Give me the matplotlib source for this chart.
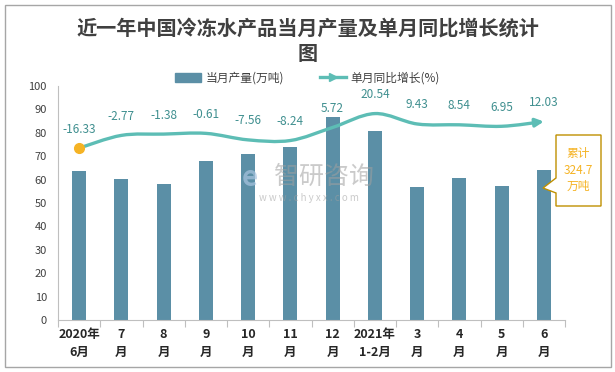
import matplotlib.pyplot as plt
import numpy as np
from matplotlib.path import Path
from matplotlib.patches import FancyArrowPatch, Rectangle, Polygon
from matplotlib.lines import Line2D

plt.rcParams['font.family'] = ['Noto Sans CJK SC', 'DejaVu Sans']

# data
months = ["2020年\n6月", "7\n月", "8\n月", "9\n月", "10\n月", "11\n月", "12\n月",
          "2021年\n1-2月", "3\n月", "4\n月", "5\n月", "6\n月"]
output = [63.7, 60.3, 58.1, 67.9, 70.9, 73.9, 86.8, 80.8, 57.0, 60.7, 57.3, 64.1]
growth = [-16.33, -2.77, -1.38, -0.61, -7.56, -8.24, 5.72, 20.54, 9.43, 8.54, 6.95, 12.03]
total_note = "累计\n324.7\n万吨"

bar_color = "#5B8FA6"
line_color = "#5DBDB5"
label_color = "#3F8F8F"
text_color = "#404040"

W, H = 615, 372
fig = plt.figure(figsize=(W / 100, H / 100), dpi=100)

# outer frame
fig.patches.append(Rectangle((5 / W, 5 / H), 606 / W, 362 / H, transform=fig.transFigure,
                             fill=False, edgecolor="#A6A6A6", linewidth=1.0))

ax = fig.add_axes([58 / W, (H - 320) / H, (565 - 58) / W, (320 - 86) / H])
x = np.arange(len(months))
ax.bar(x, output, width=0.33, color=bar_color, zorder=2)
ax.set_xlim(-0.5, len(months) - 0.5)
ax.set_ylim(0, 100)
ax.set_yticks(range(0, 101, 10))
ax.tick_params(axis="y", length=0, labelsize=8, labelcolor=text_color, pad=8)
ax.set_xticks(x)
ax.set_xticklabels(months, fontsize=9, fontweight="bold", color="#262626", linespacing=1.5)
ax.tick_params(axis="x", length=0, pad=6)
ax.set_xticks(np.arange(-0.5, len(months)), minor=True)
ax.tick_params(axis="x", which="minor", length=5, color="#BFBFBF", width=0.8)
for s in ["top", "right"]:
    ax.spines[s].set_visible(False)
ax.spines["left"].set_color("#BFBFBF")
ax.spines["bottom"].set_color("#BFBFBF")

# growth line on hidden secondary axis
ax2 = ax.twinx()
ax2.set_ylim(-200, 50)
ax2.axis("off")

# smooth curve through the points (Catmull-Rom as cubic Bezier)
pts = np.column_stack([x, growth]).astype(float)
verts = [tuple(pts[0])]
codes = [Path.MOVETO]
n = len(pts)
for i in range(n - 1):
    p0 = pts[max(i - 1, 0)]
    p1 = pts[i]
    p2 = pts[i + 1]
    p3 = pts[min(i + 2, n - 1)]
    c1 = p1 + (p2 - p0) / 6.0
    c2 = p2 - (p3 - p1) / 6.0
    verts += [tuple(c1), tuple(c2), tuple(p2)]
    codes += [Path.CURVE4] * 3
curve = FancyArrowPatch(path=Path(verts, codes), arrowstyle="-|>", mutation_scale=12,
                        color=line_color, linewidth=2.4, shrinkA=0, shrinkB=0, zorder=3)
ax2.add_patch(curve)
ax2.plot(x[0], growth[0], "o", color="#F5B324", markersize=7, zorder=4)

for xi, g in zip(x, growth):
    ax2.annotate(f"{g:.2f}", (xi, g), xytext=(0, 9), textcoords="offset points",
                 ha="center", va="bottom", fontsize=8.5, color=label_color)

# legend
handles = [Rectangle((0, 0), 1, 1, color=bar_color),
           Line2D([0], [0], color=line_color, linewidth=2.4, marker=">", markevery=[1],
                  markersize=6)]
fig.legend(handles, ["当月产量(万吨)", "单月同比增长(%)"], loc="center",
           bbox_to_anchor=(0.5, (H - 78) / H), ncol=2, frameon=False, fontsize=8.5,
           labelcolor=text_color, handlelength=2.2, columnspacing=3, handletextpad=0.4)

# title
fig.text(0.5, (H - 28) / H, "近一年中国冷冻水产品当月产量及单月同比增长统计",
         ha="center", va="center", fontsize=14.5, fontweight="bold", color=text_color)
fig.text(0.5, (H - 54) / H, "图", ha="center", va="center", fontsize=14.5,
         fontweight="bold", color=text_color)

# callout box
box = [(556, 135), (601, 135), (601, 206), (556, 206), (556, 193), (543, 188), (556, 178)]
fig.patches.append(Polygon([(px / W, (H - py) / H) for px, py in box], closed=True,
                           transform=fig.transFigure, facecolor="white",
                           edgecolor="#BF9000", linewidth=1.0, zorder=5))
fig.text(578.5 / W, (H - 170) / H, total_note, ha="center", va="center", fontsize=8.5,
         color="#F5B324", linespacing=1.3, zorder=6)

# watermark
fig.text(324 / W, (H - 177) / H, "智研咨询", ha="center", va="center", fontsize=18,
         color="#A0A0A0", alpha=0.55, zorder=10)
fig.text(309 / W, (H - 198) / H, "w w w . c h y x x . c o m", ha="center", va="center",
         fontsize=7, color="#A0A0A0", alpha=0.55, zorder=10)
fig.text(250 / W, (H - 178) / H, "e", ha="center", va="center", fontsize=20,
         fontweight="bold", color="#A9C4E0", alpha=0.7, zorder=10)

fig.savefig("out.png", dpi=100)
